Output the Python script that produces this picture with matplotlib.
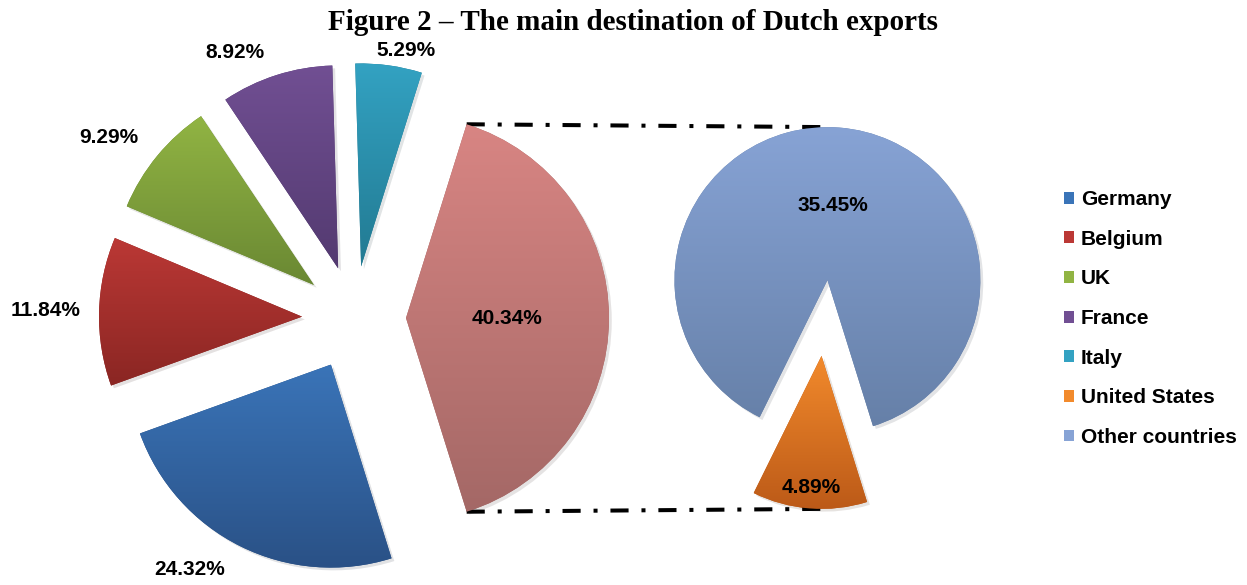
import numpy as np
import matplotlib
matplotlib.use("Agg")
import matplotlib.pyplot as plt
from matplotlib import patheffects
from matplotlib.colors import LinearSegmentedColormap
from matplotlib.patches import Patch

# data (percent of Dutch exports)
countries = ["Germany", "Belgium", "UK", "France", "Italy", "United States", "Other countries"]
shares = [24.32, 11.84, 9.29, 8.92, 5.29, 4.89, 35.45]

# main pie: first five countries + the rest grouped (40.34)
main_values = shares[:5] + [round(shares[5] + shares[6], 2)]
sub_values = shares[5:]

# gradient colours (top, bottom) per country, plus the grouped slice
grad = {
    "Germany": ("#3a74b8", "#2a5186"),
    "Belgium": ("#bb3835", "#8a2623"),
    "UK": ("#91b443", "#6a8833"),
    "France": ("#714f93", "#533a70"),
    "Italy": ("#33a2c2", "#227a92"),
    "United States": ("#f28a2c", "#bc5a18"),
    "Other countries": ("#87a3d5", "#6680a8"),
    "Other": ("#d88583", "#a46866"),
}

plt.rcParams['font.family'] = ['Liberation Sans', 'DejaVu Sans']

W, H = 1247, 585
fig = plt.figure(figsize=(W / 100, H / 100), dpi=100)
ax = fig.add_axes([0, 0, 1, 1])

main_center = (354, H - 318)
main_r = 203
sub_center = (824.5, H - 318)
sub_r = 153
us_mid = 265.5  # direction of the US slice in the second pie

# explode in matplotlib is an absolute offset (data units here = pixels)
total = sum(main_values)
main_start = -main_values[-1] / total * 180
main_wedges, _ = ax.pie(main_values, center=main_center, radius=main_r,
                        explode=[52] * len(main_values),
                        startangle=main_start, counterclock=False)

sub_total = sum(sub_values)
sub_start = us_mid + sub_values[0] / sub_total * 180
sub_wedges, _ = ax.pie(sub_values, center=sub_center, radius=sub_r,
                       explode=[38] * len(sub_values),
                       startangle=sub_start, counterclock=False)

names = countries[:5] + ["Other"] + countries[5:]
wedges = list(main_wedges) + list(sub_wedges)
values = main_values + sub_values

# fill every wedge with a vertical gradient, clipped to the wedge
ramp = np.linspace(0, 1, 256).reshape(-1, 1)
for w, name in zip(wedges, names):
    top, bot = grad[name]
    w.set_facecolor(bot)
    w.set_edgecolor("none")
    w.set_path_effects([patheffects.SimplePatchShadow(offset=(2, -2), alpha=0.12),
                        patheffects.Normal()])
    ext = w.get_path().get_extents()
    cmap = LinearSegmentedColormap.from_list(name, [top, bot])
    im = ax.imshow(ramp, cmap=cmap, aspect="auto", interpolation="bilinear",
                   extent=(ext.x0, ext.x1, ext.y0, ext.y1), origin="upper",
                   zorder=w.get_zorder() + 0.1)
    im.set_clip_path(w)

# label placement: (distance in radii from the slice tip, angle tweak)
label_pos = [(1.227, -8.1), (1.266, 0), (1.245, 3.7), (1.18, 7.8),
             (1.085, -3.9), (0.5, 0), (0.865, 0), (0.49, 0)]
for w, v, (dist, dang) in zip(wedges, values, label_pos):
    a = np.deg2rad((w.theta1 + w.theta2) / 2 + dang)
    x = w.center[0] + dist * w.r * np.cos(a)
    y = w.center[1] + dist * w.r * np.sin(a)
    ax.text(x, y, f"{v:.2f}%", ha="center", va="center",
            fontsize=15, fontweight="bold", color="black", zorder=5)

# connector lines between the grouped slice and the second pie
grp = main_wedges[-1]
def rim(w, deg):
    a = np.deg2rad(deg)
    return w.center[0] + w.r * np.cos(a), w.center[1] + w.r * np.sin(a)

top_left = rim(grp, max(grp.theta1, grp.theta2))
bot_left = rim(grp, min(grp.theta1, grp.theta2))
top_right = rim(sub_wedges[1], 90)
bot_right = rim(sub_wedges[0], 270)
for p, q in [(top_left, top_right), (bot_left, bot_right)]:
    ax.plot([p[0], q[0]], [p[1], q[1]], color="black", lw=2.9,
            linestyle=(0, (4.5, 3.2, 1.0, 3.2)), solid_capstyle="butt",
            dash_capstyle="butt", zorder=1)

# legend
handles = [Patch(facecolor=grad[c][0], edgecolor="none") for c in countries]
ax.legend(handles, countries, loc="center left",
          bbox_to_anchor=(1064, H - 318.5), bbox_transform=ax.transData,
          frameon=False, borderpad=0, borderaxespad=0,
          handlelength=0.5, handleheight=0.5, handletextpad=0.3,
          labelspacing=0.99, prop={"size": 15, "weight": "bold"})

fig.text(633 / W, 1 - 22 / H, "Figure 2 \u2013 The main destination of Dutch exports",
         ha="center", va="center", fontsize=21, fontweight="bold",
         family=["Liberation Serif", "DejaVu Serif"])

ax.set_xlim(0, W)
ax.set_ylim(0, H)
ax.set_aspect("auto")
ax.axis("off")

fig.savefig("out.png", dpi=100)
